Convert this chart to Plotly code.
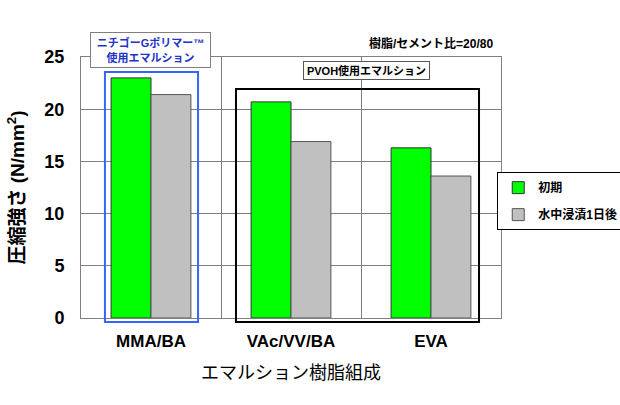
import plotly.graph_objects as go

categories = ["MMA/BA", "VAc/VV/BA", "EVA"]
initial = [23.0, 20.7, 16.3]
after_water = [21.4, 16.9, 13.6]
series_names = ["初期", "水中浸漬1日後"]
y_ticks = [0, 5, 10, 15, 20, 25]

FONT = "Liberation Sans, Arial, Noto Sans CJK JP, sans-serif"

fig = go.Figure()
fig.add_trace(go.Bar(x=categories, y=initial, name=series_names[0], legendgroup="a",
                     marker=dict(color="#00FF00", line=dict(color="#333333", width=1))))
fig.add_trace(go.Bar(x=categories, y=after_water, name=series_names[1], legendgroup="b",
                     marker=dict(color="#C0C0C0", line=dict(color="#555555", width=1))))

fig.update_layout(
    width=620, height=405,
    margin=dict(l=81, r=119, t=57, b=87, autoexpand=False),
    paper_bgcolor="white", plot_bgcolor="white",
    barmode="group", bargap=0.43, bargroupgap=0,
    font=dict(family=FONT, color="black"),
    legend=dict(xref="container", yref="container", x=0.802, y=0.575,
                xanchor="left", yanchor="top",
                bordercolor="black", borderwidth=1, bgcolor="white",
                font=dict(size=12, family=FONT, weight="bold"),
                itemwidth=30, tracegroupgap=8),
    xaxis=dict(
        tickson="boundaries", showgrid=True, gridcolor="#808080", gridwidth=1,
        showline=True, linecolor="#808080", mirror=True, ticks="",
        ticklabelstandoff=8,
        tickfont=dict(size=17, family=FONT, weight="bold"),
        title=dict(text="エマルション樹脂組成", font=dict(size=18, family=FONT), standoff=15),
    ),
    yaxis=dict(
        range=[0, 25], tickvals=y_ticks, showgrid=True, gridcolor="#808080", gridwidth=1,
        showline=True, linecolor="#808080", mirror=True, ticks="", zeroline=False,
        ticklabelstandoff=12,
        tickfont=dict(size=18, family=FONT, weight="bold"),
        title=dict(text="圧縮強さ (N/mm<sup>2</sup>)", font=dict(size=19, family=FONT, weight="bold"), standoff=14),
    ),
    shapes=[
        dict(type="rect", xref="x", yref="paper", x0=-0.329, x1=0.336, y0=-0.015, y1=0.943,
             line=dict(color="#3366FF", width=2), fillcolor="rgba(0,0,0,0)", layer="above"),
        dict(type="rect", xref="x", yref="paper", x0=0.607, x1=2.343, y0=-0.015, y1=0.877,
             line=dict(color="black", width=2), fillcolor="rgba(0,0,0,0)", layer="above"),
    ],
    annotations=[
        dict(text="ニチゴーGポリマー™<br>使用エマルション", xref="paper", yref="paper",
             x=0.165, y=1.027, xanchor="center", yanchor="middle", showarrow=False,
             bgcolor="white", bordercolor="#808080",
             borderwidth=1, width=117, height=32, borderpad=1,
             font=dict(size=11, color="#2233CC", family=FONT, weight="bold")),
        dict(text="PVOH使用エマルション", xref="paper", yref="paper",
             x=0.68, y=0.948, xanchor="center", yanchor="middle", showarrow=False,
             bgcolor="white", bordercolor="#555555",
             borderwidth=1, width=123, height=15, borderpad=1,
             font=dict(size=11, color="black", family=FONT, weight="bold")),
        dict(text="樹脂/セメント比=20/80", xref="paper", yref="paper",
             x=0.833, y=1.05, xanchor="center", yanchor="middle", showarrow=False,
             font=dict(size=12, color="black", family=FONT, weight="bold")),
    ],
)

fig.write_html("out.html")
